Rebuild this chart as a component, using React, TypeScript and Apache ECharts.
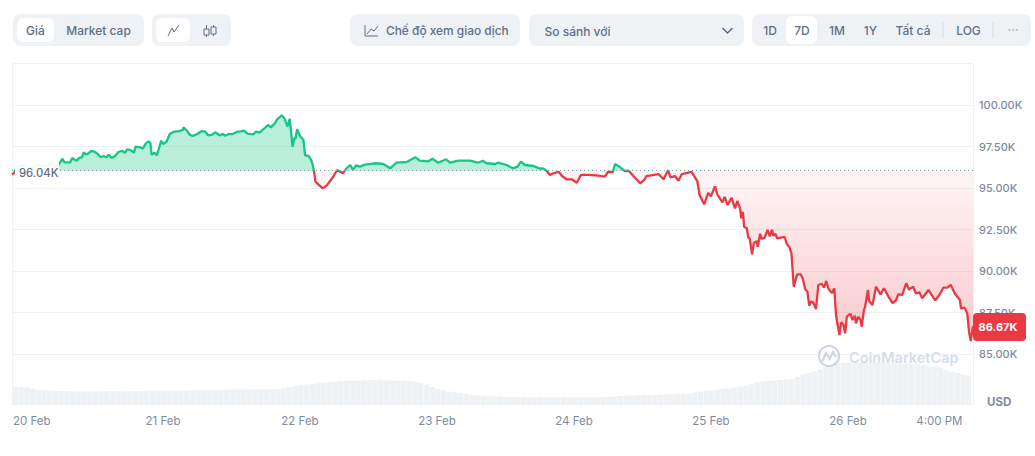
import React, { useEffect, useRef } from "react";
import * as echarts from "echarts";

const BASE_PRICE = 96040;
const LAST_PRICE = 86670;
const GREEN = "#16c784";
const RED = "#ea3943";
const FONT = "Inter, 'Noto Sans', sans-serif";

// [hours since 20 Feb 00:00, price in USD]
const feb20: number[][] = [[-2.45,95810],[-2.1,95900],[-1.6,96265],[-0.35,96385],[0.7,96205],[2.1,96385],[3.5,96325],[4.55,96505],[5.25,96265],[5.9,96490],[6.4,96765],[6.7,96565],[7.7,96525],[8.1,96810],[8.6,96690],[8.9,96645],[9.3,96810],[9.8,96850],[10.1,97150],[10.5,97030],[10.8,97050],[11.5,97245],[12.1,97170],[12.7,97005],[13.1,96850],[13.6,96930],[14.1,96850],[14.5,97005],[15,96810],[15.6,96930],[16.2,97170],[16.8,97245],[17.3,97125],[17.8,97330],[18.5,97245],[18.9,97125],[19.2,97490],[20,97450],[20.5,97390],[21,97690],[21.5,97810],[21.8,97710],[22,97005],[22.5,97125],[22.9,96970],[23.2,97290],[23.7,97850]];
const feb21: number[][] = [[24,97650],[24.6,97770],[25.2,98250],[25.6,98330],[25.9,98375],[26.8,98430],[27.5,98495],[27.6,98655],[28.2,98450],[28.7,98210],[29.2,98130],[30,98250],[30.8,98430],[31.4,98390],[31.9,98175],[32.6,98210],[33.2,98355],[33.9,98175],[34.5,98250],[34.9,98150],[35.5,98250],[36.2,98250],[36.9,98375],[37.6,98415],[38.2,98450],[38.8,98270],[39.8,98235],[40.3,98390],[40.9,98330],[41.7,98570],[42.4,98795],[42.9,98655],[43.6,98895],[44,99140],[44.8,99380],[45.3,99175],[45.8,98695],[46.2,99175],[46.7,97490],[47,98010],[47.2,97950],[47.5,98535]];
const feb22: number[][] = [[48,98130],[48.6,97890],[48.9,96970],[49.5,96930],[49.9,96730],[50.2,96445],[50.5,95920],[50.7,95380],[51.4,95160],[52,94980],[52.7,95160],[53.8,95660],[54.5,96085],[55.5,95885],[56.1,96165],[56.8,96385],[57.3,96085],[57.8,96365],[58.5,96285],[59.4,96405],[61.1,96490],[62.6,96445],[63.8,96185],[64.9,96525],[66.7,96565],[68.2,96850],[69,96645],[70.5,96610],[71.2,96765]];
const feb23: number[][] = [[72.2,96525],[73.6,96730],[74.3,96525],[75.7,96645],[77.8,96645],[79.2,96525],[80,96645],[80.7,96490],[82.2,96445],[82.7,96525],[84.2,96385],[85.3,96185],[86.1,96285],[86.7,96585],[87.4,96385],[88.9,96325],[90,96165],[90.6,96185],[91.2,96040],[91.8,95785],[92.4,95885],[93.3,95980],[93.9,95720],[94.7,95525]];
const feb24: number[][] = [[95.6,95525],[96.5,95320],[97.2,95785],[98.5,95785],[99.9,95755],[101.4,95680],[102,95980],[102.8,95965],[103.2,96445],[104.1,96245],[104.9,96025],[105.6,96040],[106.4,95720],[107.6,95285],[108.4,95525],[108.7,95720],[110.8,95840],[111.7,95525],[112.5,96085],[112.9,95645],[113.7,95720],[114.3,95440],[114.9,95840],[116.6,95965],[117.6,95420],[118,94580],[118.8,94020],[119.5,94700]];
const feb25: number[][] = [[120,94500],[120.7,95100],[121.1,94620],[122,94140],[122.4,94460],[122.9,93975],[123.6,94415],[124.2,93775],[124.6,94215],[125.1,93775],[125.3,93175],[125.6,93570],[125.8,92670],[126.3,92570],[126.5,92065],[126.8,91925],[127.2,91005],[127.5,91670],[128,91805],[128.2,91465],[128.6,92245],[128.9,91925],[129.4,92005],[129.9,92470],[130.3,92090],[130.7,92490],[130.9,92125],[131.3,92230],[131.6,91970],[132.9,92050],[133.3,91610],[133.7,91465],[134.1,91065],[134.5,89055],[135.1,89800],[135.7,89800],[136.1,89520],[136.5,88915],[136.9,88750],[137.2,87910],[137.5,88150],[137.9,88115],[138.4,87710],[138.8,89155],[139.4,89235],[139.8,88995],[140.2,89400],[140.6,88915],[141.2,88675],[141.6,88960],[141.9,87350],[142.5,86145],[142.8,86910],[143.2,86745],[143.5,86245],[143.8,87245]];
const feb26: number[][] = [[144.4,87425],[144.8,87045],[145.2,87305],[145.4,86850],[145.8,87245],[146.2,87045],[146.4,86645],[146.8,87650],[147,87850],[147.5,88855],[147.7,88195],[148.3,87950],[148.9,89055],[149.7,88595],[150.3,88960],[151.1,88450],[151.8,88070],[152.4,88235],[152.8,88595],[153.5,88555],[154.2,89260],[154.7,88875],[155.4,89055],[155.9,88655],[156.5,88715],[157,88355],[158.1,88855],[158.6,88595],[159.3,88235],[160,88555],[160.7,88995],[161.4,88995],[162,89155],[162.7,88655],[163.6,88255],[163.8,87755],[164.4,87790],[164.9,87450],[165.2,86345],[165.5,85785],[165.9,86670]];

// 24h volume in $B, hourly from the start of the range
const volumeA: number[] = [27,27,26.3,24,22.5,22,21.5,21.2,21,20.8,20.5,20.5,20.5,20.4,20.5,20.6,20.7,20.7,20.7,20.6,20.6,20.8,21,21.3,21.5,21.5,21.6,21.7,21.7,21.7,21.7,22,22.2,22.5,22.8,22.8,22.9,23,23.2,23.2,23.2,23.3,23.5,23.6,23.7,23.9];
const volumeB: number[] = [24.1,25,27,28.5,30,30.8,31.5,32.6,33.7,34.5,35.2,35.8,36.3,36.5,36.7,37,37.2,37.2,37.2,37,36.8,36.7,36.6,36,35.2,33,30.7,27,24,22,20.2,19,18,16.5,15,14.5,14,13.4,12.9,12.6,12.3,12.1,12,11.7];
const volumeC: number[] = [11.5,11.5,11.5,11.5,11.6,11.5,11.5,11.5,11.6,11.5,11.5,11.6,11.7,12,12.6,13,13.5,14,14.5,14.8,15,15.1,15.3,15.6,15.9,16.2,16.5,16.9,17.3,18.8,20.3,21,21.8,23,24.5,25.4,26.3,27.8,29.3,32,34.5,35.5,36.5,37];
const volumeD: number[] = [37.5,38,38.6,42,46.5,48.5,50.3,53.5,57,60,62.3,63.4,64,63.9,63.8,63.6,63.5,63.2,63,62.8,62.7,62.5,62.3,62,61.5,60.5,59.3,58,56.3,53,50.3,48,45.8,44.4];
const volume: number[] = [...volumeA, ...volumeB, ...volumeC, ...volumeD];
const volumeHours: number[] = volume.map((_, i) => -1.85 + i);

const axisHours = [1, 24, 48, 72, 96, 120, 144, 160];
const axisLabels = ["20 Feb", "21 Feb", "22 Feb", "23 Feb", "24 Feb", "25 Feb", "26 Feb", "4:00 PM"];
const HOUR_MIN = -2.45;
const HOUR_MAX = 165.9;

const segmented = [
  { text: "Giá", x: 35.5 },
  { text: "Market cap", x: 98.5 },
];
const ranges = [
  { text: "1D", x: 770 },
  { text: "7D", x: 802 },
  { text: "1M", x: 837 },
  { text: "1Y", x: 870.5 },
  { text: "Tất cả", x: 913 },
  { text: "LOG", x: 968.5 },
];

function rect(x: number, y: number, width: number, height: number, r: number, fill: string, z = 10) {
  return { type: "rect", z, silent: true, shape: { x, y, width, height, r }, style: { fill } };
}
function label(x: number, y: number, text: string, font: string, fill: string, textAlign = "center", z = 12, extra: any = {}) {
  return { type: "text", z, silent: true, x, y, style: { text, font, fill, textAlign, textVerticalAlign: "middle", ...extra } };
}
function stroke(points: number[][], color: string, lineWidth = 1, z = 12) {
  return { type: "polyline", z, silent: true, shape: { points }, style: { stroke: color, lineWidth, fill: "none" } };
}

export default function App() {
  const ref = useRef<HTMLDivElement>(null);
  useEffect(() => {
    const chart = echarts.init(ref.current!, undefined, { renderer: "svg" });
    const price = [...feb20, ...feb21, ...feb22, ...feb23, ...feb24, ...feb25, ...feb26];
    const values = price.map((p) => p[1]);
    const hi = Math.max(...values);
    const lo = Math.min(...values);
    const t = (hi - BASE_PRICE) / (hi - lo);
    const lineColor = new echarts.graphic.LinearGradient(0, 0, 0, 1, [
      { offset: 0, color: GREEN },
      { offset: t, color: GREEN },
      { offset: t, color: RED },
      { offset: 1, color: RED },
    ]);
    const areaColor = new echarts.graphic.LinearGradient(0, 0, 0, 1, [
      { offset: 0, color: "rgba(22,199,132,0.3)" },
      { offset: t, color: "rgba(22,199,132,0.3)" },
      { offset: t, color: "rgba(234,57,67,0.05)" },
      { offset: 1, color: "rgba(234,57,67,0.27)" },
    ]);
    const textGrey = "#616e85";
    const f = `500 12px ${FONT}`;
    const graphic: any[] = [
      // toolbar
      rect(13, 14, 131, 32, 8, "#eff2f5"),
      rect(17, 18, 37, 24, 6, "#ffffff", 11),
      ...segmented.map((s) => label(s.x, 30, s.text, f, textGrey)),
      rect(152, 14, 79, 32, 8, "#eff2f5"),
      rect(156, 18, 34, 24, 6, "#ffffff", 11),
      stroke([[168, 36], [172, 28], [174, 32], [179, 25]], "#616e85"),
      stroke([[206.5, 25], [206.5, 37]], "#616e85"),
      rect(204, 29, 5, 6, 1, "#eff2f5", 13),
      stroke([[204, 29], [209, 29], [209, 35], [204, 35], [204, 29]], "#616e85", 1, 14),
      stroke([[213.5, 25], [213.5, 36]], "#616e85"),
      rect(211, 27, 5, 7, 1, "#eff2f5", 13),
      stroke([[211, 27], [216, 27], [216, 34], [211, 34], [211, 27]], "#616e85", 1, 14),
      rect(350, 14, 170, 32, 8, "#eff2f5"),
      stroke([[365, 25], [365, 36], [378, 36]], "#616e85"),
      stroke([[367, 34], [371, 29], [374, 31], [378, 26]], "#616e85"),
      label(386, 30, "Chế độ xem giao dịch", `500 11.9px ${FONT}`, textGrey, "left"),
      rect(529, 14, 215, 32, 8, "#eff2f5"),
      label(544.5, 31, "So sánh với", f, textGrey, "left"),
      stroke([[722.5, 28], [727.5, 33], [732.5, 28]], "#58667e", 1.4),
      rect(752, 14, 279, 32, 8, "#eff2f5"),
      rect(786, 16, 31, 28, 6, "#ffffff", 11),
      ...ranges.map((s) => label(s.x, 30, s.text, f, textGrey)),
      stroke([[943, 22], [943, 38]], "#d5dae3"),
      stroke([[993, 22], [993, 38]], "#d5dae3"),
      label(1013, 29, "···", f, "#a6b0c3"),
      // plot frame
      rect(12, 64, 1, 341, 0, "#eff2f5", 3),
      rect(973, 64, 1, 341, 0, "#eff2f5", 3),
      // base price label
      rect(15, 162, 44, 20, 0, "rgba(255,255,255,0.93)", 20),
      label(19, 172.5, "96.04K", `500 11.3px ${FONT}`, textGrey, "left", 21),
      // last price tag
      rect(973, 313, 53, 28, 4, RED, 20),
      label(998, 326.5, `${(LAST_PRICE / 1000).toFixed(2)}K`, `700 11px ${FONT}`, "#ffffff", "center", 21),
      // watermark
      { type: "circle", z: 15, silent: true, shape: { cx: 829, cy: 356, r: 10 }, style: { fill: "none", stroke: "#cdd6e5", lineWidth: 2.2 } },
      stroke([[822.5, 361], [826, 353], [829.5, 359], [833, 352], [836, 357]], "#cdd6e5", 2.2, 15),
      label(849, 357.5, "CoinMarketCap", `600 14.5px ${FONT}`, "#d6dde9", "left", 15),
      // unit
      label(987, 402, "USD", `700 11.5px ${FONT}`, "#808a9d", "left", 12),
    ];

    chart.setOption({
      animation: false,
      backgroundColor: "#ffffff",
      textStyle: { fontFamily: FONT },
      grid: [
        { left: 12, top: 63.5, width: 961, height: 290.5, show: false },
        { left: 12, top: 354, width: 961, height: 51, show: false },
      ],
      xAxis: [
        { type: "value", gridIndex: 0, min: HOUR_MIN, max: HOUR_MAX, show: false },
        {
          type: "value",
          gridIndex: 1,
          min: HOUR_MIN,
          max: HOUR_MAX,
          axisLine: { show: false },
          axisTick: { show: false },
          splitLine: { show: false },
          axisLabel: {
            customValues: axisHours,
            formatter: (v: number) => axisLabels[axisHours.indexOf(v)] ?? "",
            color: "#808a9d",
            fontSize: 11.5,
            fontFamily: FONT,
            margin: 10,
            hideOverlap: false,
          },
        },
      ],
      yAxis: [
        {
          type: "value",
          gridIndex: 0,
          position: "right",
          min: 85000,
          max: 102500,
          interval: 2500,
          axisLine: { show: false },
          axisTick: { show: false },
          splitLine: { lineStyle: { color: "#eff2f5", width: 1 } },
          axisLabel: {
            formatter: (v: number) => (v >= 102500 ? "" : `${(v / 1000).toFixed(2)}K`),
            color: "#808a9d",
            fontSize: 11,
            fontWeight: 500,
            fontFamily: FONT,
            margin: 6,
          },
        },
        { type: "value", gridIndex: 1, min: 0, max: 76.5, show: false },
      ],
      series: [
        {
          name: "Volume",
          type: "bar",
          xAxisIndex: 1,
          yAxisIndex: 1,
          barWidth: 5.4,
          clip: true,
          itemStyle: { color: "#eff2f5" },
          data: volumeHours.map((h, i) => [h, volume[i]]),
          silent: true,
        },
        {
          name: "Price",
          type: "line",
          xAxisIndex: 0,
          yAxisIndex: 0,
          showSymbol: false,
          data: price,
          lineStyle: { width: 2.3, color: lineColor },
          itemStyle: { color: RED },
          areaStyle: { origin: BASE_PRICE, color: areaColor, opacity: 1 },
          z: 5,
          markLine: {
            silent: true,
            symbol: "none",
            label: { show: false },
            lineStyle: { type: [1, 3], color: "#8f96a6", width: 1 },
            data: [{ yAxis: BASE_PRICE }],
            z: 6,
          },
        },
      ],
      graphic,
    });
    return () => chart.dispose();
  }, []);
  return <div ref={ref} style={{ position: "absolute", left: 0, top: 0, width: 1035, height: 456, background: "#fff" }} />;
}
